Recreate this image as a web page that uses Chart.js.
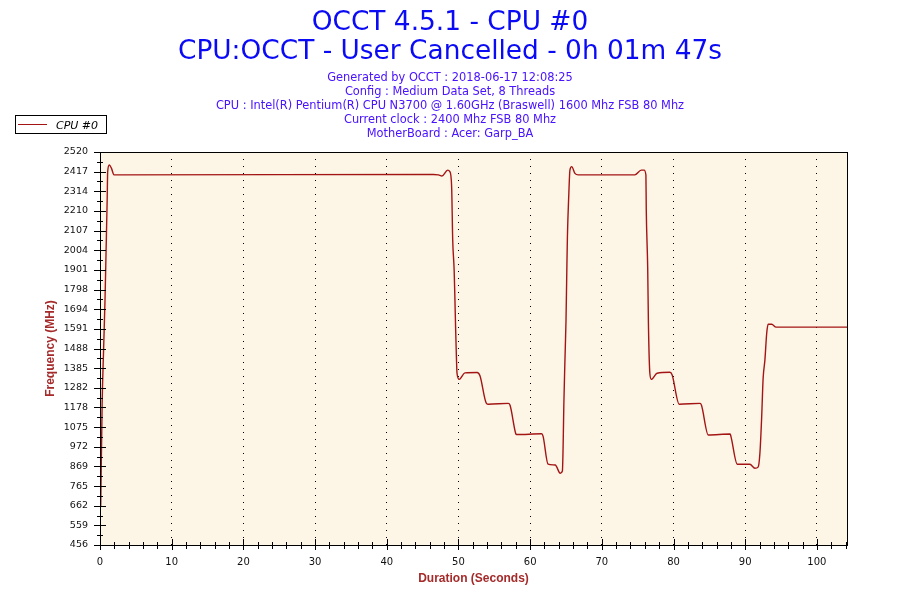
<!DOCTYPE html>
<html>
<head>
<meta charset="utf-8">
<title>OCCT 4.5.1 - CPU #0</title>
<script src="https://cdn.jsdelivr.net/npm/chart.js@4.4.1/dist/chart.umd.min.js"></script>
<style>
  html, body { margin: 0; padding: 0; background: #fff; }
  #wrap { width: 900px; height: 600px; }
</style>
</head>
<body>
<div id="wrap"><canvas id="freq" width="900" height="600"></canvas></div>
<script>
// 텍스트
const titleLines = ['OCCT 4.5.1 - CPU #0', 'CPU:OCCT - User Cancelled - 0h 01m 47s'];
const infoLines = [
  'Generated by OCCT : 2018-06-17 12:08:25',
  'Config : Medium Data Set, 8 Threads',
  'CPU : Intel(R) Pentium(R) CPU N3700 @ 1.60GHz (Braswell) 1600 Mhz FSB 80 Mhz',
  'Current clock : 2400 Mhz FSB 80 Mhz',
  'MotherBoard : Acer: Garp_BA'
];
const seriesName = 'CPU #0';

// 데이터 (초, MHz) - 그림에서 읽은 값
const seconds = [
  0.1, 0.3, 0.5, 0.7, 0.85, 1.0, 1.07, 1.3, 1.6, 1.95, 2.3,
  46.5, 47.2, 47.7, 48.5, 48.8, 49.05, 49.2, 49.4, 49.5, 49.6, 49.7, 49.8, 50.1,
  50.9, 52.6, 53.0, 53.9, 54.2, 56.95, 57.2, 58.0, 58.1, 61.6, 61.8, 62.5, 63.5,
  64.2, 64.5, 64.6, 64.7, 64.85, 65.0, 65.1, 65.2, 65.4, 65.55, 65.8, 66.25, 66.7,
  74.6, 75.5, 75.9, 76.15, 76.2, 76.4, 76.5, 76.7, 76.9, 77.7, 79.5, 79.8,
  80.8, 83.7, 83.9, 84.85, 87.9, 88.0, 88.9, 90.65, 91.35, 91.8,
  92.05, 92.3, 92.5, 92.75, 93.0, 93.2, 93.7, 94.3, 104.2
];
const cpu0 = [
  660, 1200, 1480, 1745, 2005, 2268, 2417, 2452, 2434, 2400, 2400,
  2402, 2400, 2394, 2425, 2417, 2338, 2058, 1900, 1760, 1602, 1464, 1359, 1326,
  1360, 1362, 1345, 1200, 1195, 1200, 1190, 1040, 1036, 1040, 1028, 881, 876,
  833, 845, 972, 1191, 1419, 1629, 1857, 2075, 2303, 2425, 2443, 2408, 2400,
  2400, 2425, 2425, 2399, 2215, 1909, 1620, 1358, 1326, 1358, 1363, 1350,
  1195, 1200, 1190, 1034, 1039, 1028, 880, 880, 859, 865,
  937, 1130, 1331, 1428, 1568, 1615, 1615, 1600, 1600
];

// 축 눈금
const xMax = 104.2;
const xTicks = [0, 10, 20, 30, 40, 50, 60, 70, 80, 90, 100];
const yMin = 456, yMax = 2520;
const yTickLabels = ['456', '559', '662', '765', '869', '972', '1075', '1178', '1282', '1385',
  '1488', '1591', '1694', '1798', '1901', '2004', '2107', '2210', '2314', '2417', '2520'];

const lineColor = '#a31515';
const yStep = (yMax - yMin) / (yTickLabels.length - 1);

// 배경, 테두리, 눈금 표시, 범례, 제목
const occtDecor = {
  id: 'occtDecor',
  beforeDraw(chart) {
    const {ctx, chartArea: a} = chart;
    ctx.save();
    ctx.fillStyle = '#fdf6e6';
    ctx.fillRect(a.left, a.top, a.right - a.left, a.bottom - a.top);
    ctx.restore();
  },
  afterDraw(chart) {
    const {ctx, chartArea: a} = chart;
    const xs = chart.scales.x, ys = chart.scales.y;
    ctx.save();
    ctx.strokeStyle = '#000';
    ctx.lineWidth = 1;
    ctx.strokeRect(Math.round(a.left) + 0.5, Math.round(a.top) + 0.5,
      Math.round(a.right - a.left), Math.round(a.bottom - a.top));

    ctx.beginPath();
    for (let v = 0; v <= xMax; v += 2) {
      const px = Math.round(xs.getPixelForValue(v)) + 0.5;
      const major = v % 10 === 0;
      ctx.moveTo(px, a.bottom - (major ? 6 : 3));
      ctx.lineTo(px, a.bottom + (major ? 5 : 4));
    }
    for (let i = 0; i < yTickLabels.length * 2 - 1; i++) {
      const py = Math.round(ys.getPixelForValue(yMin + i * yStep / 2)) + 0.5;
      const major = i % 2 === 0;
      ctx.moveTo(a.left - (major ? 6 : 3), py);
      ctx.lineTo(a.left + (major ? 6 : 3), py);
    }
    ctx.stroke();

    // 범례
    ctx.fillStyle = '#fff';
    ctx.fillRect(15.5, 115.5, 91, 18);
    ctx.strokeRect(15.5, 115.5, 91, 18);
    ctx.strokeStyle = lineColor;
    ctx.beginPath();
    ctx.moveTo(18, 124.5);
    ctx.lineTo(47, 124.5);
    ctx.stroke();
    ctx.fillStyle = '#000';
    ctx.font = 'italic 11px "DejaVu Sans"';
    ctx.textBaseline = 'alphabetic';
    ctx.textAlign = 'left';
    ctx.fillText(seriesName, 56, 129);

    // 제목
    ctx.textAlign = 'center';
    ctx.fillStyle = '#0a0af5';
    ctx.font = '26.4px "DejaVu Sans"';
    ctx.fillText(titleLines[0], 450, 30);
    ctx.fillText(titleLines[1], 450, 59);
    ctx.fillStyle = '#4a14ff';
    ctx.font = '11.4px "DejaVu Sans"';
    infoLines.forEach((t, i) => ctx.fillText(t, 450, 81 + i * 14));
    ctx.restore();
  }
};

const ctx = document.getElementById('freq').getContext('2d');
const freqChart = new Chart(ctx, {
  type: 'line',
  data: {
    datasets: [{
      label: seriesName,
      data: seconds.map((s, i) => ({x: s, y: cpu0[i]})),
      borderColor: lineColor,
      borderWidth: 1.4,
      pointRadius: 0,
      cubicInterpolationMode: 'monotone',
      fill: false
    }]
  },
  options: {
    responsive: false,
    animation: false,
    devicePixelRatio: 1,
    layout: { padding: { top: 152, right: 53, left: 0, bottom: 0 } },
    plugins: {
      legend: { display: false },
      title: { display: false },
      tooltip: { enabled: false }
    },
    scales: {
      x: {
        type: 'linear',
        min: 0,
        max: xMax,
        afterBuildTicks: s => { s.ticks = xTicks.map(v => ({value: v})); },
        afterFit: s => { s.height = 55; },
        grid: {
          drawTicks: false,
          color: c => (c.tick && c.tick.value === 0) ? 'rgba(0,0,0,0)' : '#000',
          lineWidth: 1
        },
        border: { display: false, dash: [1, 6] },
        ticks: {
          padding: 11,
          color: '#111',
          font: { family: '"DejaVu Sans"', size: 10 },
          maxRotation: 0
        },
        title: {
          display: true,
          text: 'Duration (Seconds)',
          color: '#a52a2a',
          font: { family: '"Liberation Sans"', size: 12, weight: 'bold' },
          padding: { top: 0, bottom: 14 }
        }
      },
      y: {
        type: 'linear',
        min: yMin,
        max: yMax,
        afterBuildTicks: s => { s.ticks = yTickLabels.map((l, i) => ({value: yMin + i * yStep})); },
        afterFit: s => { s.width = 100; },
        grid: { display: false, drawTicks: false },
        border: { display: false },
        ticks: {
          padding: 12,
          color: '#111',
          font: { family: '"DejaVu Sans"', size: 9.5 },
          callback: (v, i) => yTickLabels[i]
        },
        title: {
          display: true,
          text: 'Frequency (MHz)',
          color: '#a52a2a',
          font: { family: '"Liberation Sans"', size: 12, weight: 'bold' },
          padding: { top: 43, bottom: 0 }
        }
      }
    }
  },
  plugins: [occtDecor]
});
</script>
</body>
</html>
